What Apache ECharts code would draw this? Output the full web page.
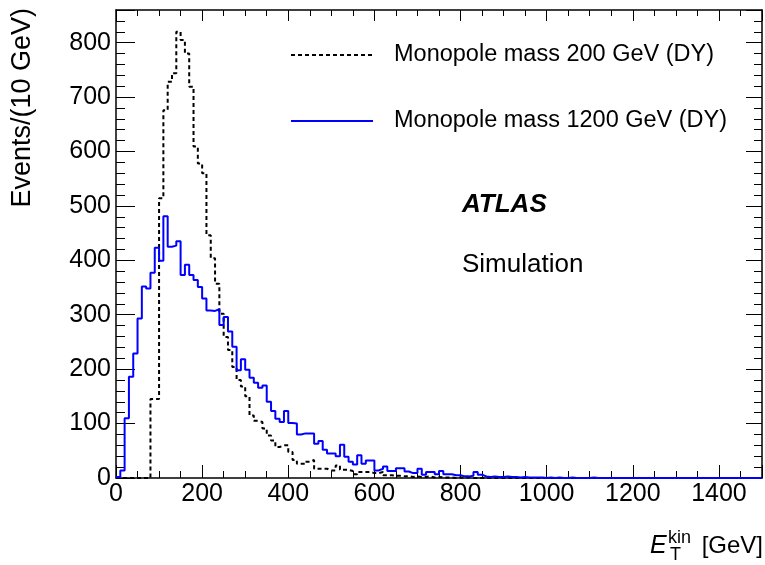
<!DOCTYPE html>
<html>
<head>
<meta charset="utf-8">
<script src="https://cdn.jsdelivr.net/npm/echarts@6/dist/echarts.min.js"></script>
<style>
html,body{margin:0;padding:0;background:#fff;}
#chart{width:765px;height:565px;}
</style>
</head>
<body>
<div id="chart"></div>
<script>
// Bin width 10 GeV, range 0..1500 GeV
const binWidth = 10;
const xMin = 0, xMax = 1500;
const yMax = 860;
const xTickLabels = [0, 200, 400, 600, 800, 1000, 1200, 1400];
const yTickLabels = [0, 100, 200, 300, 400, 500, 600, 700, 800];

const seriesNames = ['Monopole mass 200 GeV (DY)', 'Monopole mass 1200 GeV (DY)'];

// Events per 10 GeV bin, mass 200 GeV (black dashed)
const mass200 = [
  0, 0, 0, 0, 0, 0, 0, 0, 145, 145,
  514, 676, 728, 744, 820, 805, 780, 719, 609, 578,
  560, 446, 404, 357, 302, 259, 235, 204, 180, 168,
  150, 115, 105, 103, 91, 78, 69, 57, 60, 60,
  48, 33, 26, 26, 30, 33, 17, 17, 17, 14,
  14, 23, 15, 15, 13, 7, 11, 11, 11, 9,
  9, 11, 5, 5, 4, 4, 3, 3, 2, 3,
  2, 2, 3, 1, 2, 1, 1, 1, 0, 1,
  0, 1, 0, 0, 0, 0, 0, 0, 0, 0,
  0, 0, 0, 0, 0, 0, 0, 0, 0, 0,
  0, 0, 0, 0, 0, 0, 0, 0, 0, 0,
  0, 0, 0, 0, 0, 0, 0, 0, 0, 0,
  0, 0, 0, 0, 0, 0, 0, 0, 0, 0,
  0, 0, 0, 0, 0, 0, 0, 0, 0, 0,
  0, 0, 0, 0, 0, 0, 0, 0, 0, 0
];

// Events per 10 GeV bin, mass 1200 GeV (blue solid)
const mass1200 = [
  2, 14, 110, 186, 229, 293, 352, 348, 377, 423,
  399, 481, 425, 427, 435, 373, 392, 373, 364, 351,
  330, 308, 307, 310, 281, 296, 269, 241, 198, 218,
  199, 184, 175, 166, 170, 140, 123, 109, 103, 123,
  101, 100, 80, 82, 82, 82, 63, 68, 52, 45,
  45, 40, 61, 39, 30, 25, 42, 26, 32, 32,
  14, 17, 21, 13, 13, 18, 18, 12, 9, 9,
  17, 6, 11, 11, 7, 13, 7, 7, 5, 5,
  3, 3, 4, 11, 6, 3, 2, 3, 2, 2,
  3, 2, 2, 1, 2, 1, 1, 1, 1, 0,
  1, 0, 1, 0, 0, 1, 0, 0, 0, 0,
  1, 0, 0, 0, 0, 0, 0, 0, 0, 0,
  0, 0, 0, 0, 0, 0, 0, 0, 0, 0,
  0, 0, 0, 0, 0, 0, 0, 0, 0, 0,
  0, 0, 0, 0, 0, 0, 0, 0, 0, 0
];

function toSteps(values) {
  const pts = values.map((v, i) => [xMin + i * binWidth, v]);
  pts.push([xMin + values.length * binWidth, values[values.length - 1]]);
  return pts;
}

const FONT = "'Liberation Sans', Arial, Helvetica, sans-serif";
const chart = echarts.init(document.getElementById('chart'), null, {renderer: 'canvas'});

const xLabelFmt = v => (xTickLabels.indexOf(v) >= 0 ? String(v) : '');
const yLabelFmt = v => (yTickLabels.indexOf(v) >= 0 ? String(v) : '');

chart.setOption({
  animation: false,
  backgroundColor: '#ffffff',
  grid: {left: 116, top: 10, right: 1, bottom: 87, containLabel: false},
  legend: {
    orient: 'vertical',
    left: 285,
    top: 37,
    itemWidth: 82,
    itemHeight: 26,
    itemGap: 40,
    data: seriesNames,
    itemStyle: {opacity: 0, borderWidth: 0},
    textStyle: {fontFamily: FONT, fontSize: 23.5, color: '#000', lineHeight: 26, padding: [0, 0, 0, 16]}
  },
  xAxis: [{
    type: 'value', min: xMin, max: xMax, interval: 200, position: 'bottom',
    axisLine: {show: true, onZero: false, lineStyle: {color: '#000', width: 1.5}},
    axisTick: {show: true, inside: true, length: 13, lineStyle: {color: '#000', width: 1}},
    minorTick: {show: true, splitNumber: 4, length: 7, lineStyle: {color: '#000', width: 1}},
    axisLabel: {show: true, formatter: xLabelFmt, fontFamily: FONT, fontSize: 25, color: '#000', margin: 4},
    splitLine: {show: false}
  }, {
    type: 'value', min: xMin, max: xMax, interval: 200, position: 'top',
    axisLine: {show: true, onZero: false, lineStyle: {color: '#000', width: 1.5}},
    axisTick: {show: true, inside: true, length: 11, lineStyle: {color: '#000', width: 1}},
    minorTick: {show: true, splitNumber: 4, length: 6, lineStyle: {color: '#000', width: 1}},
    axisLabel: {show: false},
    splitLine: {show: false}
  }],
  yAxis: [{
    type: 'value', min: 0, max: yMax, interval: 100, position: 'left',
    axisLine: {show: true, onZero: false, lineStyle: {color: '#000', width: 1.5}},
    axisTick: {show: true, inside: true, length: 19, lineStyle: {color: '#000', width: 1}},
    minorTick: {show: true, splitNumber: 5, length: 9, lineStyle: {color: '#000', width: 1}},
    axisLabel: {show: true, formatter: yLabelFmt, fontFamily: FONT, fontSize: 25, color: '#000', margin: 5},
    splitLine: {show: false}
  }, {
    type: 'value', min: 0, max: yMax, interval: 100, position: 'right',
    axisLine: {show: true, onZero: false, lineStyle: {color: '#000', width: 1.5}},
    axisTick: {show: true, inside: true, length: 16, lineStyle: {color: '#000', width: 1}},
    minorTick: {show: true, splitNumber: 5, length: 8, lineStyle: {color: '#000', width: 1}},
    axisLabel: {show: false},
    splitLine: {show: false}
  }],
  series: [{
    name: seriesNames[0],
    type: 'line', step: 'end', symbol: 'none', xAxisIndex: 0, yAxisIndex: 0,
    data: toSteps(mass200),
    lineStyle: {color: '#000000', width: 2, type: [4, 3]},
    itemStyle: {color: '#000000'},
    z: 2
  }, {
    name: seriesNames[1],
    type: 'line', step: 'end', symbol: 'none', xAxisIndex: 0, yAxisIndex: 0,
    data: toSteps(mass1200),
    lineStyle: {color: '#0000ff', width: 2, type: 'solid'},
    itemStyle: {color: '#0000ff'},
    z: 3
  }],
  graphic: [
    {type: 'text', left: 462, top: 192, style: {text: 'ATLAS', font: "italic bold 26px 'Liberation Sans', Arial, sans-serif", fill: '#000'}},
    {type: 'text', left: 462, top: 252, style: {text: 'Simulation', font: "26px 'Liberation Sans', Arial, sans-serif", fill: '#000'}},
    {type: 'text', x: 23, y: 8, rotation: Math.PI / 2,
      style: {text: 'Events/(10 GeV)', font: "27px 'Liberation Sans', Arial, sans-serif", fill: '#000', align: 'right', verticalAlign: 'middle'}},
    {type: 'text', x: 763, y: 546, style: {text: '[GeV]', font: "24px 'Liberation Sans', Arial, sans-serif", fill: '#000', align: 'right', verticalAlign: 'middle'}},
    {type: 'text', x: 650, y: 546, style: {text: 'E', font: "italic 25px 'Liberation Sans', Arial, sans-serif", fill: '#000', align: 'left', verticalAlign: 'middle'}},
    {type: 'text', x: 668, y: 538, style: {text: 'kin', font: "18px 'Liberation Sans', Arial, sans-serif", fill: '#000', align: 'left', verticalAlign: 'middle'}},
    {type: 'text', x: 670, y: 555, style: {text: 'T', font: "18px 'Liberation Sans', Arial, sans-serif", fill: '#000', align: 'left', verticalAlign: 'middle'}}
  ]
});
</script>
</body>
</html>
